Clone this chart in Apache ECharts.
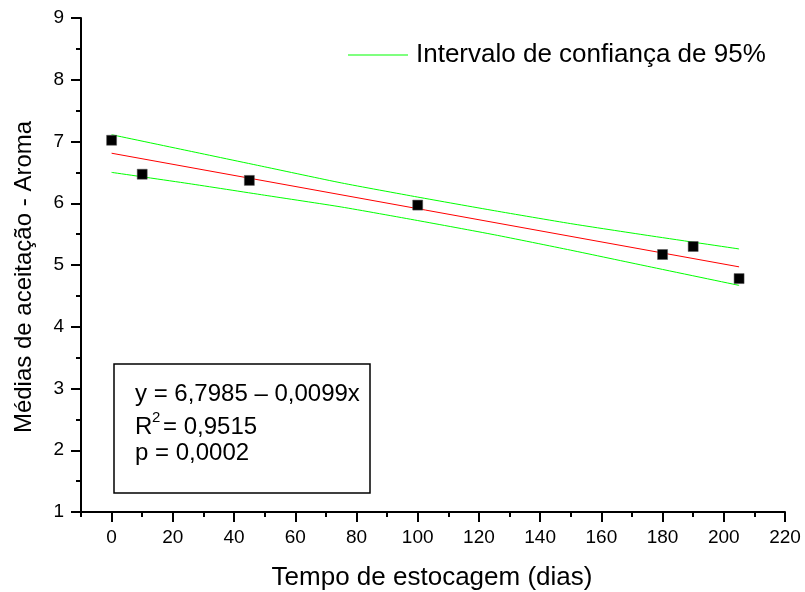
<!DOCTYPE html>
<html><head><meta charset="utf-8">
<script src="https://cdn.jsdelivr.net/npm/echarts@6/dist/echarts.min.js"></script>
<style>html,body{margin:0;padding:0;background:#fff}#c{width:805px;height:592px}</style>
</head><body><div id="c"></div>
<script>
// ---- data ----
const days  = [0, 10, 45, 100, 180, 190, 205];
const aroma = [7.02, 6.47, 6.37, 5.97, 5.17, 5.30, 4.78];
const fitX  = [0, 205];
const fitY  = [6.81, 4.97];
const bandX  = [0, 25, 50, 75, 100, 125, 150, 175, 205];
const upperY = [7.11, 6.85, 6.59, 6.33, 6.10, 5.88, 5.67, 5.48, 5.26];
const lowerY = [6.50, 6.32, 6.13, 5.94, 5.72, 5.49, 5.24, 4.98, 4.67];
const xMajor = [0, 20, 40, 60, 80, 100, 120, 140, 160, 180, 200, 220];
const xMinor = [-10, 10, 30, 50, 70, 90, 110, 130, 150, 170, 190, 210];
const yMajor = [1, 2, 3, 4, 5, 6, 7, 8, 9];
const yMinor = [1.5, 2.5, 3.5, 4.5, 5.5, 6.5, 7.5, 8.5];
const xTitle = 'Tempo de estocagem (dias)';
const yTitle = 'Médias de aceitação - Aroma';
const bandName = 'Intervalo de confiança de 95%';
const eqText = 'y = 6,7985 – 0,0099x';
const r2Text = '= 0,9515';
const pText = 'p = 0,0002';

const FONT = 'Liberation Sans, Arial, Helvetica, sans-serif';
const zip = (a, b) => a.map((v, i) => [v, b[i]]);
const tickStyle = {color: '#000', width: 2};
// an invisible axis that only contributes ticks at the given values
const tickAxis = (min, max, pos, values, len) => ({
  type: 'value', min: min, max: max, position: pos, splitLine: {show: false},
  axisLine: {show: false, onZero: false},
  axisTick: {show: true, length: len, customValues: values, lineStyle: tickStyle},
  axisLabel: {show: false}
});

const chart = echarts.init(document.getElementById('c'), null, {renderer: 'canvas'});
chart.setOption({
  animation: false,
  backgroundColor: '#fff',
  grid: {left: 81, right: 20, top: 18, bottom: 80, containLabel: false},
  legend: {
    data: [bandName], left: 343, top: 37, itemWidth: 60, itemHeight: 1.2, icon: 'rect',
    textStyle: {fontFamily: FONT, fontSize: 26, color: '#000', padding: [0, 0, 0, 3]}
  },
  xAxis: [
    {type: 'value', min: -10, max: 220, splitLine: {show: false},
     axisLine: {show: true, onZero: false, lineStyle: tickStyle},
     axisTick: {show: false},
     axisLabel: {customValues: xMajor, margin: 16, color: '#000', fontFamily: FONT, fontSize: 19}},
    tickAxis(-10, 220, 'bottom', xMajor, 10),
    tickAxis(-10, 220, 'bottom', xMinor, 5)
  ],
  yAxis: [
    {type: 'value', min: 1, max: 9, splitLine: {show: false},
     axisLine: {show: true, onZero: false, lineStyle: tickStyle},
     axisTick: {show: false},
     axisLabel: {customValues: yMajor, margin: 17, color: '#000', fontFamily: FONT, fontSize: 19}},
    tickAxis(1, 9, 'left', yMajor, 10),
    tickAxis(1, 9, 'left', yMinor, 5)
  ],
  series: [
    {type: 'line', name: bandName, data: zip(bandX, upperY), symbol: 'none', smooth: 0.2,
     lineStyle: {color: '#00ff00', width: 1}, itemStyle: {color: '#00ff00'}, z: 2},
    {type: 'line', name: bandName, data: zip(bandX, lowerY), symbol: 'none', smooth: 0.2,
     lineStyle: {color: '#00ff00', width: 1}, itemStyle: {color: '#00ff00'}, z: 2},
    {type: 'line', name: 'Ajuste', data: zip(fitX, fitY), symbol: 'none',
     lineStyle: {color: '#ff0000', width: 1}, itemStyle: {color: '#ff0000'}, z: 3},
    {type: 'scatter', name: 'Aroma', data: zip(days, aroma), symbol: 'rect', symbolSize: 10,
     itemStyle: {color: '#000', opacity: 1, borderColor: '#555', borderWidth: 0.5}, z: 5}
  ],
  graphic: [
    {type: 'text', position: [432, 578],
     style: {text: xTitle, fontFamily: FONT, fontSize: 26, fill: '#000', align: 'center', verticalAlign: 'middle'}},
    {type: 'text', position: [24, 277], rotation: Math.PI / 2,
     style: {text: yTitle, fontFamily: FONT, fontSize: 24, fill: '#000', align: 'center', verticalAlign: 'middle'}},
    {type: 'rect', shape: {x: 114, y: 364, width: 256, height: 129},
     style: {fill: 'none', stroke: '#000', lineWidth: 1.5}},
    {type: 'text', position: [135, 394],
     style: {text: eqText, fontFamily: FONT, fontSize: 24, fill: '#000', align: 'left', verticalAlign: 'middle'}},
    {type: 'text', position: [135, 427],
     style: {text: 'R', fontFamily: FONT, fontSize: 24, fill: '#000', align: 'left', verticalAlign: 'middle'}},
    {type: 'text', position: [152, 418],
     style: {text: '2', fontFamily: FONT, fontSize: 15, fill: '#000', align: 'left', verticalAlign: 'middle'}},
    {type: 'text', position: [163, 427],
     style: {text: r2Text, fontFamily: FONT, fontSize: 24, fill: '#000', align: 'left', verticalAlign: 'middle'}},
    {type: 'text', position: [135, 453],
     style: {text: pText, fontFamily: FONT, fontSize: 24, fill: '#000', align: 'left', verticalAlign: 'middle'}}
  ]
});
</script></body></html>
